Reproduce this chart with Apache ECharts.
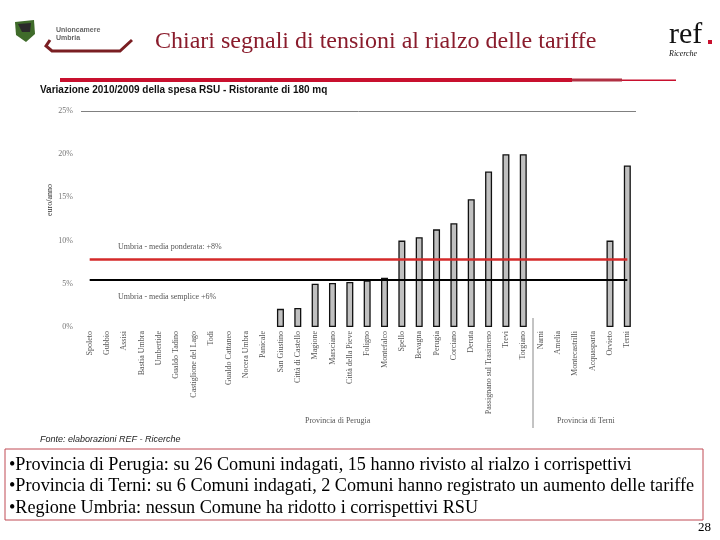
<!DOCTYPE html>
<html>
<head>
<meta charset="utf-8">
<script src="https://cdn.jsdelivr.net/npm/echarts@6/dist/echarts.min.js"></script>
<style>html,body{margin:0;padding:0;background:#fff}#c{width:720px;height:540px}</style>
</head>
<body>
<div id="c"></div>
<script>
const categories = ['Spoleto','Gubbio','Assisi','Bastia Umbra','Umbertide','Gualdo Tadino','Castiglione del Lago','Todi','Gualdo Cattaneo','Nocera Umbra','Panicale','San Giustino','Città di Castello','Magione','Marsciano','Città della Pieve','Foligno','Montefalco','Spello','Bevagna','Perugia','Corciano','Deruta','Passignano sul Trasimeno','Trevi','Torgiano','Narni','Amelia','Montecastrilli','Acquasparta','Orvieto','Terni'];
const variazione = [0,0,0,0,0,0,0,0,0,0,0,2.1,2.2,5.0,5.1,5.2,5.4,5.7,10.0,10.4,11.3,12.0,14.8,18.0,20.0,20.0,0,0,0,0,10.0,18.7];
const mediaPonderata = 7.8;
const mediaSemplice = 5.5;
const yTicks = [0,5,10,15,20,25];

const chart = echarts.init(document.getElementById('c'), null, {renderer:'canvas'});
const serif = 'Liberation Serif';
chart.setOption({
  animation:false,
  backgroundColor:'#fff',
  grid:{left:81,right:84,top:111,height:216,containLabel:false},
  xAxis:{type:'category',data:categories,
    axisLine:{show:false},axisTick:{show:false},
    axisLabel:{interval:0,rotate:90,fontFamily:serif,fontSize:8,color:'#555',margin:4}},
  yAxis:{type:'value',min:yTicks[0],max:yTicks[yTicks.length-1],interval:5,
    axisLine:{show:false},axisTick:{show:false},splitLine:{show:false},
    axisLabel:{formatter:'{value}%',fontFamily:serif,fontSize:8,color:'#777',margin:8}},
  series:[{
    type:'bar',
    data:variazione.map(v => v === 0 ? {value:v,itemStyle:{borderWidth:0,opacity:0}} : v),
    barWidth:7,
    itemStyle:{color:'#c0c0c0',borderColor:'#111',borderWidth:1.3},
    markLine:{symbol:'none',silent:true,label:{show:false},
      data:[
        [{coord:[categories[0],mediaPonderata],lineStyle:{color:'#d42a2a',width:2.5,type:'solid'}},{coord:[categories[categories.length-1],mediaPonderata]}],
        [{coord:[categories[0],mediaSemplice],lineStyle:{color:'#000',width:2,type:'solid'}},{coord:[categories[categories.length-1],mediaSemplice]}],
        {yAxis:25,lineStyle:{color:'#808080',width:1,type:'solid'}}
      ]}
  }],
  graphic:[
    // Unioncamere logo
    {type:'polygon',shape:{points:[[15,22],[34,20],[35,34],[26,42],[16,35]]},style:{fill:'#3f6b2a'}},
    {type:'polygon',shape:{points:[[18,24],[31,23],[30,32],[22,32]]},style:{fill:'#2a2a2a'}},
    {type:'text',left:56,top:26,style:{text:'Unioncamere\nUmbria',fontFamily:'Liberation Sans',fontSize:7,fontWeight:'bold',fill:'#666',lineHeight:8}},
    {type:'polyline',shape:{points:[[50,40],[46,46],[52,51],[120,51],[132,40]]},style:{stroke:'#7a1e22',lineWidth:3,fill:null}},
    // title
    {type:'text',left:155,top:30,style:{text:'Chiari segnali di tensioni al rialzo delle tariffe',fontFamily:serif,fontSize:24,fill:'#8a1c2c'}},
    // ref logo
    {type:'text',left:669,top:20,style:{text:'ref',fontFamily:serif,fontSize:30,fill:'#111'}},
    {type:'rect',shape:{x:708,y:40,width:4,height:4},style:{fill:'#c8102e'}},
    {type:'text',left:669,top:50,style:{text:'Ricerche',fontFamily:serif,fontStyle:'italic',fontSize:8,fill:'#111'}},
    // red bar
    {type:'rect',shape:{x:60,y:78,width:512,height:4},style:{fill:'#c8102e'}},
    {type:'rect',shape:{x:572,y:78.5,width:50,height:3},style:{fill:'#b03042'}},
    {type:'rect',shape:{x:622,y:79.5,width:54,height:1.5},style:{fill:'#c8102e'}},
    // subtitle
    {type:'text',left:40,top:85,style:{text:'Variazione 2010/2009 della spesa RSU - Ristorante di 180 mq',fontFamily:'Liberation Sans',fontSize:10,fontWeight:'bold',fill:'#111'}},
    // y axis name
    {type:'text',x:50,y:200,rotation:Math.PI/2,style:{text:'euro/anno',fontFamily:serif,fontSize:8,fill:'#333',align:'center',verticalAlign:'middle'}},
    // mean labels
    {type:'text',left:118,top:243,style:{text:'Umbria - media ponderata: +8%',fontFamily:serif,fontSize:8,fill:'#555'}},
    {type:'text',left:118,top:293,style:{text:'Umbria - media semplice +6%',fontFamily:serif,fontSize:8,fill:'#555'}},
    // group separator and labels
    {type:'line',shape:{x1:533,y1:318,x2:533,y2:428},style:{stroke:'#888',lineWidth:1}},
    {type:'text',left:305,top:417,style:{text:'Provincia di Perugia',fontFamily:serif,fontSize:8,fill:'#555'}},
    {type:'text',left:557,top:417,style:{text:'Provincia di Terni',fontFamily:serif,fontSize:8,fill:'#555'}},
    // source
    {type:'text',left:40,top:435,style:{text:'Fonte: elaborazioni REF - Ricerche',fontFamily:'Liberation Sans',fontStyle:'italic',fontSize:9,fill:'#222'}},
    // text box
    {type:'rect',shape:{x:5,y:449,width:698,height:71},style:{fill:'#fff',stroke:'#c04a55',lineWidth:1}},
    {type:'text',left:9,top:454,style:{text:'•Provincia di Perugia: su 26 Comuni indagati, 15 hanno rivisto al rialzo i corrispettivi\n•Provincia di Terni: su 6 Comuni indagati, 2 Comuni hanno registrato un aumento delle tariffe\n•Regione Umbria: nessun Comune ha ridotto i corrispettivi RSU',fontFamily:serif,fontSize:18.2,lineHeight:21.5,fill:'#000'}},
    {type:'text',left:698,top:521,style:{text:'28',fontFamily:serif,fontSize:13,fill:'#000'}}
  ]
});
</script>
</body>
</html>
